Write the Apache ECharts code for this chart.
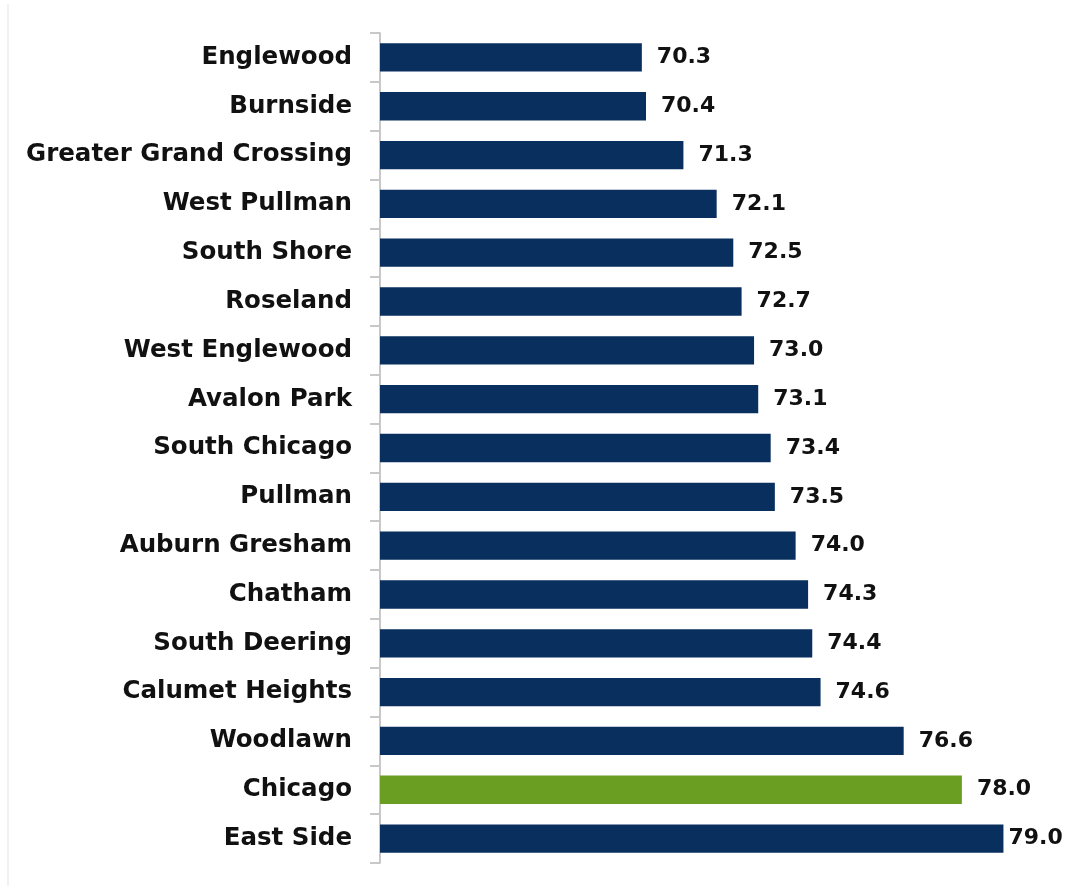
<!DOCTYPE html>
<html>
<head>
<meta charset="utf-8">
<script src="https://cdn.jsdelivr.net/npm/echarts@6/dist/echarts.min.js"></script>
<style>
  html, body { margin: 0; padding: 0; background: #fff; }
  #chart { width: 1068px; height: 886px; }
</style>
</head>
<body>
<div id="chart"></div>
<script>
  // top to bottom as in the picture
  const areas = ['Englewood', 'Burnside', 'Greater Grand Crossing', 'West Pullman', 'South Shore',
    'Roseland', 'West Englewood', 'Avalon Park', 'South Chicago', 'Pullman', 'Auburn Gresham',
    'Chatham', 'South Deering', 'Calumet Heights', 'Woodlawn', 'Chicago', 'East Side']
  const lifeExp = [70.3, 70.4, 71.3, 72.1, 72.5, 72.7, 73.0, 73.1, 73.4, 73.5, 74.0,
    74.3, 74.4, 74.6, 76.6, 78.0, 79.0]
  const highlight = 'Chicago'

  const navy = '#082f5e'
  const green = '#6a9e22'

  let chart = echarts.init(document.getElementById('chart'))

  chart.setOption({
    backgroundColor: '#fff',
    animation: false,
    grid: { left: 380, right: 23, top: 33, bottom: 23 },
    graphic: [{
      type: 'line',
      shape: { x1: 8, y1: 4, x2: 8, y2: 886 },
      style: { stroke: '#e3e3e3', lineWidth: 1 }
    }],
    xAxis: {
      type: 'value',
      min: 64,
      max: 80,
      show: false
    },
    yAxis: {
      type: 'category',
      inverse: true,
      data: areas,
      axisLine: { show: true, lineStyle: { color: '#c8c8c8', width: 2 } },
      axisTick: { show: true, alignWithLabel: false, length: 10, lineStyle: { color: '#c8c8c8', width: 2 } },
      axisLabel: {
        margin: 28,
        color: '#111',
        fontFamily: 'DejaVu Sans',
        fontWeight: 'bold',
        fontSize: 24.5
      }
    },
    series: [{
      type: 'bar',
      barCategoryGap: '42%',
      data: lifeExp.map(function (v, i) {
        let item = {
          value: v,
          itemStyle: { color: areas[i] === highlight ? green : navy }
        }
        // last label squeezed against the edge, like the original
        if (i === lifeExp.length - 1) item.label = { distance: 5 }
        return item
      }),
      label: {
        show: true,
        position: 'right',
        distance: 15,
        color: '#111',
        fontFamily: 'DejaVu Sans',
        fontWeight: 'bold',
        fontSize: 22,
        formatter: function (p) { return p.value.toFixed(1) }
      }
    }]
  })
</script>
</body>
</html>
